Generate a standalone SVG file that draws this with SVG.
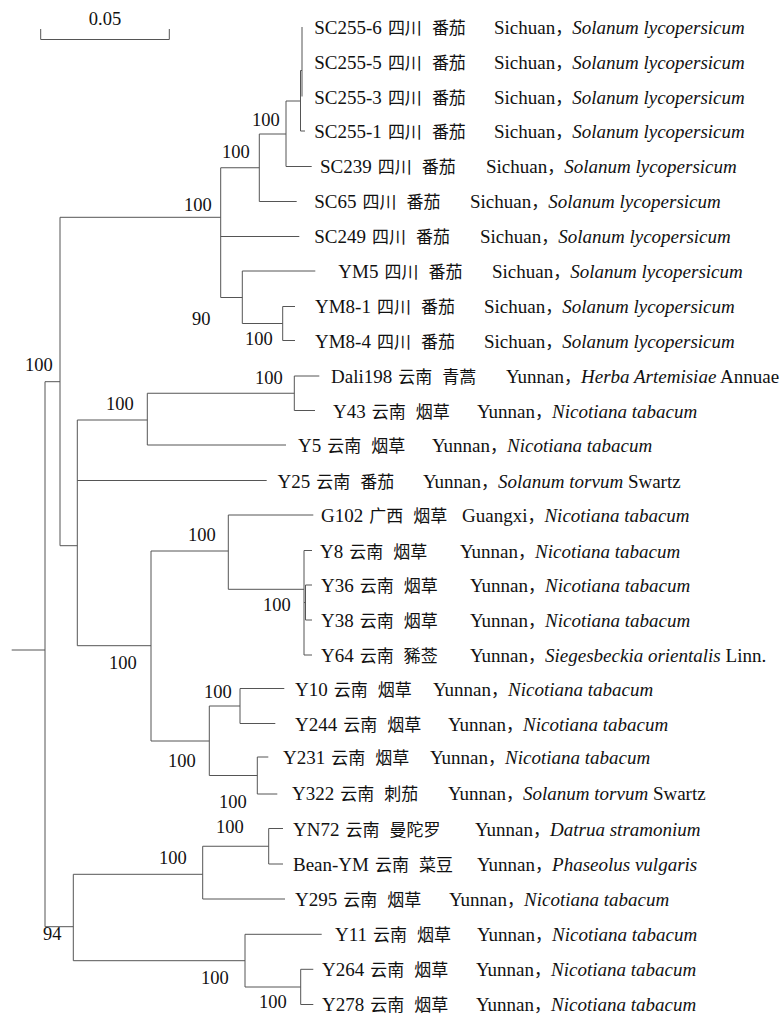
<svg xmlns="http://www.w3.org/2000/svg" width="784" height="1014" viewBox="0 0 784 1014">
<style>
.t{font-family:"Liberation Serif","Noto Sans CJK SC",serif;font-size:19px;fill:#111}
.c{font-family:"Noto Sans CJK SC","Liberation Serif",sans-serif;font-size:17px}
.i{font-style:italic}
.b{font-family:"Liberation Serif",serif;font-size:18.5px;fill:#111}
.ln{fill:none;stroke:#555;stroke-width:1}
</style>
<rect width="784" height="1014" fill="#fff"/>
<g id="scale-bar">
<path class="ln" d="M40.7,29 V39.5 H169.3 V29" stroke="#333"/>
<text class="b" x="105" y="25" text-anchor="middle">0.05</text>
</g>
<g id="connectors">
<path class="ln" d="M11.7,650 H45 M45,381.7 V926.7
M45,381.7 H60 M60,217.3 V545.7
M60,217.3 H220.7 M220.7,167.75 V297.5
M220.7,167.75 H259.3 M259.3,134 V201.5 M259.3,201.5 H296.7
M259.3,134 H286 M286,101 V166.5 M286,166.5 H311.7
M286,101 H300.5 M300.5,70.5 V131 M300.5,131 H305
M300.5,70.5 H302 M302,27 V96.5
M220.7,236.5 H299.3
M220.7,297.5 H242.3 M242.3,271 V323.5 M242.3,271 H315.3
M242.3,323.5 H282.7 M282.7,306.5 V340.5 M282.7,306.5 H295 M282.7,340.5 H295
M60,545.7 H77.3 M77.3,420 V645.7
M77.3,420 H147.3 M147.3,393.25 V445
M147.3,393.25 H294.3 M294.3,376 V410.5 M294.3,376 H319.3 M294.3,410.5 H315
M147.3,445 H286
M77.3,480.5 H266.7
M77.3,645.7 H151 M151,551 V741
M151,551 H228.3 M228.3,515 V589.3 M228.3,515 H313.3
M228.3,589.3 H304 M304,550.5 V655 M304,550.5 H312 M304,655 H312
M304,602.5 H305.5 M305.5,585 V620 M305.5,585 H312 M305.5,620 H312
M151,741 H209.3 M209.3,706 V775.5
M209.3,706 H240 M240,688.5 V723.5 M240,688.5 H284.3 M240,723.5 H275.3
M209.3,775.5 H257.3 M257.3,757 V794 M257.3,757 H268.3 M257.3,794 H277.3
M45,926.7 H73.3 M73.3,874.3 V960.7
M73.3,874.3 H202.7 M202.7,846.25 V899
M202.7,846.25 H268.7 M268.7,828.5 V864 M268.7,828.5 H283 M268.7,864 H283
M202.7,899 H285
M73.3,960.7 H245 M245,934.3 V987 M245,934.3 H321.7
M245,987 H300.7 M300.7,969.3 V1004.5 M300.7,969.3 H313.3 M300.7,1004.5 H313.3"/>
</g>
<g id="bootstrap">
<text class="b" x="252" y="126">100</text>
<text class="b" x="222" y="158">100</text>
<text class="b" x="184" y="211">100</text>
<text class="b" x="192" y="325">90</text>
<text class="b" x="245" y="345">100</text>
<text class="b" x="25" y="371">100</text>
<text class="b" x="255" y="384">100</text>
<text class="b" x="106" y="410">100</text>
<text class="b" x="188" y="541">100</text>
<text class="b" x="263" y="611">100</text>
<text class="b" x="109" y="669">100</text>
<text class="b" x="204" y="698">100</text>
<text class="b" x="168" y="767">100</text>
<text class="b" x="219" y="808">100</text>
<text class="b" x="216" y="833">100</text>
<text class="b" x="159" y="864">100</text>
<text class="b" x="43" y="940">94</text>
<text class="b" x="201" y="984">100</text>
<text class="b" x="259" y="1008">100</text>
</g>
<g id="n-SC255-6"><text class="t" y="34"><tspan x="314.3">SC255-6</tspan><tspan class="c" dx="6">四川</tspan><tspan class="c" dx="10">番茄</tspan><tspan x="494">Sichuan</tspan><tspan class="c">，</tspan><tspan class="i">Solanum lycopersicum</tspan></text></g>
<g id="n-SC255-5"><text class="t" y="68.5"><tspan x="314.3">SC255-5</tspan><tspan class="c" dx="6">四川</tspan><tspan class="c" dx="10">番茄</tspan><tspan x="494">Sichuan</tspan><tspan class="c">，</tspan><tspan class="i">Solanum lycopersicum</tspan></text></g>
<g id="n-SC255-3"><text class="t" y="103.5"><tspan x="314.3">SC255-3</tspan><tspan class="c" dx="6">四川</tspan><tspan class="c" dx="10">番茄</tspan><tspan x="494">Sichuan</tspan><tspan class="c">，</tspan><tspan class="i">Solanum lycopersicum</tspan></text></g>
<g id="n-SC255-1"><text class="t" y="138"><tspan x="314.3">SC255-1</tspan><tspan class="c" dx="6">四川</tspan><tspan class="c" dx="10">番茄</tspan><tspan x="494">Sichuan</tspan><tspan class="c">，</tspan><tspan class="i">Solanum lycopersicum</tspan></text></g>
<g id="n-SC239"><text class="t" y="173"><tspan x="320">SC239</tspan><tspan class="c" dx="6">四川</tspan><tspan class="c" dx="10">番茄</tspan><tspan x="486">Sichuan</tspan><tspan class="c">，</tspan><tspan class="i">Solanum lycopersicum</tspan></text></g>
<g id="n-SC65"><text class="t" y="208"><tspan x="314.3">SC65</tspan><tspan class="c" dx="6">四川</tspan><tspan class="c" dx="10">番茄</tspan><tspan x="470">Sichuan</tspan><tspan class="c">，</tspan><tspan class="i">Solanum lycopersicum</tspan></text></g>
<g id="n-SC249"><text class="t" y="243"><tspan x="314.3">SC249</tspan><tspan class="c" dx="6">四川</tspan><tspan class="c" dx="10">番茄</tspan><tspan x="480">Sichuan</tspan><tspan class="c">，</tspan><tspan class="i">Solanum lycopersicum</tspan></text></g>
<g id="n-YM5"><text class="t" y="278"><tspan x="338.3">YM5</tspan><tspan class="c" dx="6">四川</tspan><tspan class="c" dx="10">番茄</tspan><tspan x="492">Sichuan</tspan><tspan class="c">，</tspan><tspan class="i">Solanum lycopersicum</tspan></text></g>
<g id="n-YM8-1"><text class="t" y="313"><tspan x="315">YM8-1</tspan><tspan class="c" dx="6">四川</tspan><tspan class="c" dx="10">番茄</tspan><tspan x="484">Sichuan</tspan><tspan class="c">，</tspan><tspan class="i">Solanum lycopersicum</tspan></text></g>
<g id="n-YM8-4"><text class="t" y="347.5"><tspan x="315">YM8-4</tspan><tspan class="c" dx="6">四川</tspan><tspan class="c" dx="10">番茄</tspan><tspan x="484">Sichuan</tspan><tspan class="c">，</tspan><tspan class="i">Solanum lycopersicum</tspan></text></g>
<g id="n-Dali198"><text class="t" y="383"><tspan x="331">Dali198</tspan><tspan class="c" dx="6">云南</tspan><tspan class="c" dx="10">青蒿</tspan><tspan x="506">Yunnan</tspan><tspan class="c">，</tspan><tspan class="i">Herba Artemisiae</tspan><tspan> Annuae</tspan></text></g>
<g id="n-Y43"><text class="t" y="417.5"><tspan x="333">Y43</tspan><tspan class="c" dx="6">云南</tspan><tspan class="c" dx="10">烟草</tspan><tspan x="477">Yunnan</tspan><tspan class="c">，</tspan><tspan class="i">Nicotiana tabacum</tspan></text></g>
<g id="n-Y5"><text class="t" y="452"><tspan x="298">Y5</tspan><tspan class="c" dx="6">云南</tspan><tspan class="c" dx="10">烟草</tspan><tspan x="432">Yunnan</tspan><tspan class="c">，</tspan><tspan class="i">Nicotiana tabacum</tspan></text></g>
<g id="n-Y25"><text class="t" y="487.5"><tspan x="277.5">Y25</tspan><tspan class="c" dx="6">云南</tspan><tspan class="c" dx="10">番茄</tspan><tspan x="423">Yunnan</tspan><tspan class="c">，</tspan><tspan class="i">Solanum torvum</tspan><tspan> Swartz</tspan></text></g>
<g id="n-G102"><text class="t" y="522"><tspan x="321">G102</tspan><tspan class="c" dx="6">广西</tspan><tspan class="c" dx="10">烟草</tspan><tspan x="462">Guangxi</tspan><tspan class="c">，</tspan><tspan class="i">Nicotiana tabacum</tspan></text></g>
<g id="n-Y8"><text class="t" y="557.5"><tspan x="320">Y8</tspan><tspan class="c" dx="6">云南</tspan><tspan class="c" dx="10">烟草</tspan><tspan x="460">Yunnan</tspan><tspan class="c">，</tspan><tspan class="i">Nicotiana tabacum</tspan></text></g>
<g id="n-Y36"><text class="t" y="592"><tspan x="321">Y36</tspan><tspan class="c" dx="6">云南</tspan><tspan class="c" dx="10">烟草</tspan><tspan x="470">Yunnan</tspan><tspan class="c">，</tspan><tspan class="i">Nicotiana tabacum</tspan></text></g>
<g id="n-Y38"><text class="t" y="627"><tspan x="321">Y38</tspan><tspan class="c" dx="6">云南</tspan><tspan class="c" dx="10">烟草</tspan><tspan x="470">Yunnan</tspan><tspan class="c">，</tspan><tspan class="i">Nicotiana tabacum</tspan></text></g>
<g id="n-Y64"><text class="t" y="662"><tspan x="321">Y64</tspan><tspan class="c" dx="6">云南</tspan><tspan class="c" dx="10">豨莶</tspan><tspan x="470">Yunnan</tspan><tspan class="c">，</tspan><tspan class="i">Siegesbeckia orientalis</tspan><tspan> Linn.</tspan></text></g>
<g id="n-Y10"><text class="t" y="695.5"><tspan x="295">Y10</tspan><tspan class="c" dx="6">云南</tspan><tspan class="c" dx="10">烟草</tspan><tspan x="433">Yunnan</tspan><tspan class="c">，</tspan><tspan class="i">Nicotiana tabacum</tspan></text></g>
<g id="n-Y244"><text class="t" y="730.5"><tspan x="295">Y244</tspan><tspan class="c" dx="6">云南</tspan><tspan class="c" dx="10">烟草</tspan><tspan x="448">Yunnan</tspan><tspan class="c">，</tspan><tspan class="i">Nicotiana tabacum</tspan></text></g>
<g id="n-Y231"><text class="t" y="764"><tspan x="283">Y231</tspan><tspan class="c" dx="6">云南</tspan><tspan class="c" dx="10">烟草</tspan><tspan x="430">Yunnan</tspan><tspan class="c">，</tspan><tspan class="i">Nicotiana tabacum</tspan></text></g>
<g id="n-Y322"><text class="t" y="800"><tspan x="292">Y322</tspan><tspan class="c" dx="6">云南</tspan><tspan class="c" dx="10">刺茄</tspan><tspan x="448">Yunnan</tspan><tspan class="c">，</tspan><tspan class="i">Solanum torvum</tspan><tspan> Swartz</tspan></text></g>
<g id="n-YN72"><text class="t" y="835.5"><tspan x="293">YN72</tspan><tspan class="c" dx="6">云南</tspan><tspan class="c" dx="10">曼陀罗</tspan><tspan x="475">Yunnan</tspan><tspan class="c">，</tspan><tspan class="i">Datrua stramonium</tspan></text></g>
<g id="n-Bean-YM"><text class="t" y="870.5"><tspan x="293">Bean-YM</tspan><tspan class="c" dx="6">云南</tspan><tspan class="c" dx="10">菜豆</tspan><tspan x="477">Yunnan</tspan><tspan class="c">，</tspan><tspan class="i">Phaseolus vulgaris</tspan></text></g>
<g id="n-Y295"><text class="t" y="905.5"><tspan x="295">Y295</tspan><tspan class="c" dx="6">云南</tspan><tspan class="c" dx="10">烟草</tspan><tspan x="449">Yunnan</tspan><tspan class="c">，</tspan><tspan class="i">Nicotiana tabacum</tspan></text></g>
<g id="n-Y11"><text class="t" y="941"><tspan x="335">Y11</tspan><tspan class="c" dx="6">云南</tspan><tspan class="c" dx="10">烟草</tspan><tspan x="477">Yunnan</tspan><tspan class="c">，</tspan><tspan class="i">Nicotiana tabacum</tspan></text></g>
<g id="n-Y264"><text class="t" y="976"><tspan x="322">Y264</tspan><tspan class="c" dx="6">云南</tspan><tspan class="c" dx="10">烟草</tspan><tspan x="476">Yunnan</tspan><tspan class="c">，</tspan><tspan class="i">Nicotiana tabacum</tspan></text></g>
<g id="n-Y278"><text class="t" y="1010.5"><tspan x="322">Y278</tspan><tspan class="c" dx="6">云南</tspan><tspan class="c" dx="10">烟草</tspan><tspan x="476">Yunnan</tspan><tspan class="c">，</tspan><tspan class="i">Nicotiana tabacum</tspan></text></g>
</svg>
